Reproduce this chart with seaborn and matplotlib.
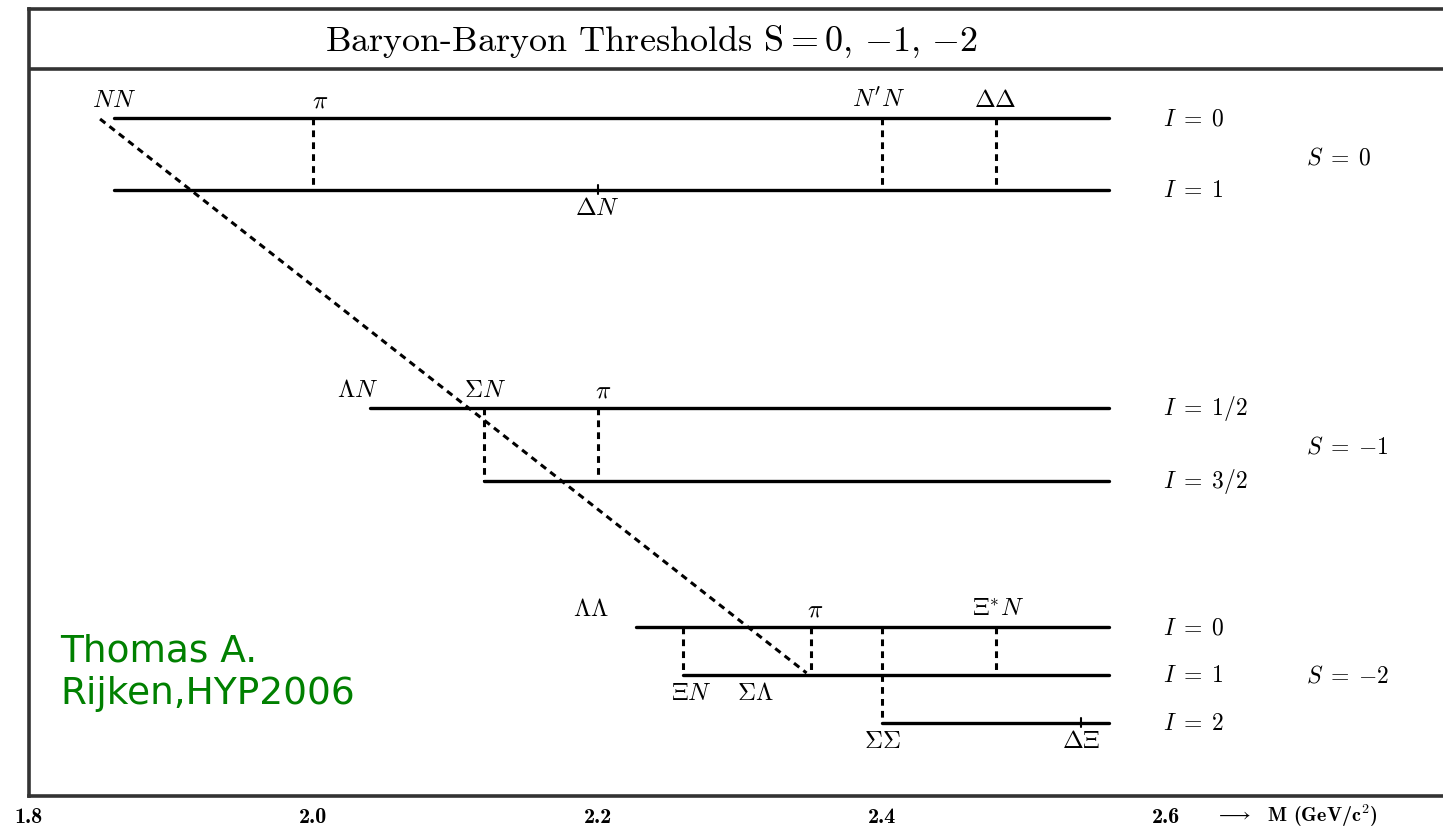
import numpy as np
import pandas as pd
import matplotlib.pyplot as plt
import seaborn as sns

sns.set_style('white')
plt.rcParams['mathtext.fontset'] = 'cm'
plt.rcParams['font.family'] = ['cmr10', 'DejaVu Sans']
plt.rcParams['axes.formatter.use_mathtext'] = True
plt.rcParams['text.color'] = 'black'
plt.rcParams['xtick.color'] = 'black'

# Threshold levels (row height in diagram units, start mass in GeV)
level_rows = [678, 606, 388, 315, 169, 121, 73]
level_start = [1.86, 1.86, 2.04, 2.12, 2.227, 2.26, 2.40]
level_end = 2.56
level_labels = [r'$I \;=\; 0$', r'$I \;=\; 1$', r'$I \;=\; 1/2$', r'$I \;=\; 3/2$',
                r'$I \;=\; 0$', r'$I \;=\; 1$', r'$I \;=\; 2$']

# Strangeness groups
s_labels = [r'$S \;=\; 0$', r'$S \;=\; {-1}$', r'$S \;=\; {-2}$']
s_rows = [639, 350, 121]

# Dashed connectors: mass, upper level, lower level
conn_mass = [2.00, 2.40, 2.48, 2.12, 2.20, 2.26, 2.35, 2.40, 2.48]
conn_top = [0, 0, 0, 2, 2, 4, 4, 4, 4]
conn_bot = [1, 1, 1, 3, 3, 5, 5, 6, 5]

# Small threshold marks on a level
mark_mass = [2.20, 2.54]
mark_level = [1, 6]

# Channel labels: text, mass, level, side
chan_text = [r'$NN$', r'$\pi$', r"$N'N$", r'$\Delta\Delta$', r'$\Delta N$',
             r'$\Lambda N$', r'$\Sigma N$', r'$\pi$',
             r'$\Lambda\Lambda$', r'$\pi$', r'$\Xi^{*}N$',
             r'$\Xi N$', r'$\Sigma\Lambda$', r'$\Sigma\Sigma$', r'$\Delta\Xi$']
chan_mass = [1.86, 2.005, 2.398, 2.48, 2.20,
             2.031, 2.121, 2.204,
             2.195, 2.353, 2.482,
             2.266, 2.311, 2.40, 2.54]
chan_level = [0, 0, 0, 0, 1, 2, 2, 2, 4, 4, 4, 5, 5, 6, 6]
chan_side = ['up', 'up', 'up', 'up', 'down', 'up', 'up', 'up',
             'up', 'up', 'up', 'down', 'down', 'down', 'down']

# Diagonal dashed guide: from NN to the Sigma-Lambda/pi point
diag_mass = [1.85, 2.347]
diag_level = [0, 5]

major_ticks = [1.8, 2.0, 2.2, 2.4, 2.6]
minor_ticks = [1.9, 2.1, 2.3, 2.5, 2.7]

fig = plt.figure(figsize=(14.43, 8.29), dpi=100)
ax = fig.add_axes([29 / 1443, 1 - 797 / 829, 1 - 29 / 1443, (797 - 10) / 829])

# level lines through seaborn
rows = []
for i, (y, x0) in enumerate(zip(level_rows, level_start)):
    rows.append({'level': i, 'mass': x0, 'row': y})
    rows.append({'level': i, 'mass': level_end, 'row': y})
df = pd.DataFrame(rows)
sns.lineplot(data=df, x='mass', y='row', units='level', estimator=None,
             color='black', lw=2.4, ax=ax, legend=False)

dash = (0, (2.2, 1.7))
for m, t, b in zip(conn_mass, conn_top, conn_bot):
    ax.plot([m, m], [level_rows[t], level_rows[b]], color='black', lw=2.2, ls=dash)

ax.plot(diag_mass, [level_rows[diag_level[0]] - 1, level_rows[diag_level[1]] + 2],
        color='black', lw=2.2, ls=dash)

for m, l in zip(mark_mass, mark_level):
    ax.plot([m, m], [level_rows[l] - 4, level_rows[l] + 5], color='black', lw=1.5)

for txt, m, l, side in zip(chan_text, chan_mass, chan_level, chan_side):
    if side == 'up':
        ax.annotate(txt, (m, level_rows[l]), xytext=(0, 5), textcoords='offset points',
                    ha='center', va='bottom', fontsize=18)
    else:
        ax.annotate(txt, (m, level_rows[l]), xytext=(0, -5), textcoords='offset points',
                    ha='center', va='top', fontsize=18)

for txt, y in zip(level_labels, level_rows):
    ax.text(2.598, y, txt, ha='left', va='center', fontsize=17)
for txt, y in zip(s_labels, s_rows):
    ax.text(2.698, y, txt, ha='left', va='center', fontsize=17)

# title box
ax.axhline(727, color='#333333', lw=2.6)
ax.text(2.238, 756, r'Baryon-Baryon Thresholds $\mathrm{S} = 0,\,{-1},\,{-2}$',
        ha='center', va='center', fontsize=26)

ax.text(1.822, 163, 'Thomas A.\nRijken,HYP2006', ha='left', va='top',
        fontsize=27, color='#008000', family='DejaVu Sans', linespacing=1.2)

ax.set_xlim(1.8, 1.8 + (1443 - 29) / 1421.5)
ax.set_ylim(0, 787)
ax.set_xticks(major_ticks)
ax.set_xticklabels(['%.1f' % t for t in major_ticks], fontsize=16, family='cmb10')
ax.set_xticks(minor_ticks, minor=True)
ax.set_yticks([])
ax.tick_params(axis='x', which='major', direction='in', length=11, width=1.8,
               color='#333333', pad=8)
ax.tick_params(axis='x', which='minor', direction='in', length=7, width=1.5,
               color='#333333')
ax.set_xlabel('')
ax.set_ylabel('')
ax.text(2.634, -19, r'$\longrightarrow$  M (GeV/c$^2$)', ha='left', va='center',
        fontsize=14.5, family='cmb10')

for side in ['left', 'top', 'bottom']:
    ax.spines[side].set_color('#333333')
    ax.spines[side].set_linewidth(2.6)
ax.spines['right'].set_visible(False)

fig.savefig('out.png', dpi=100)
